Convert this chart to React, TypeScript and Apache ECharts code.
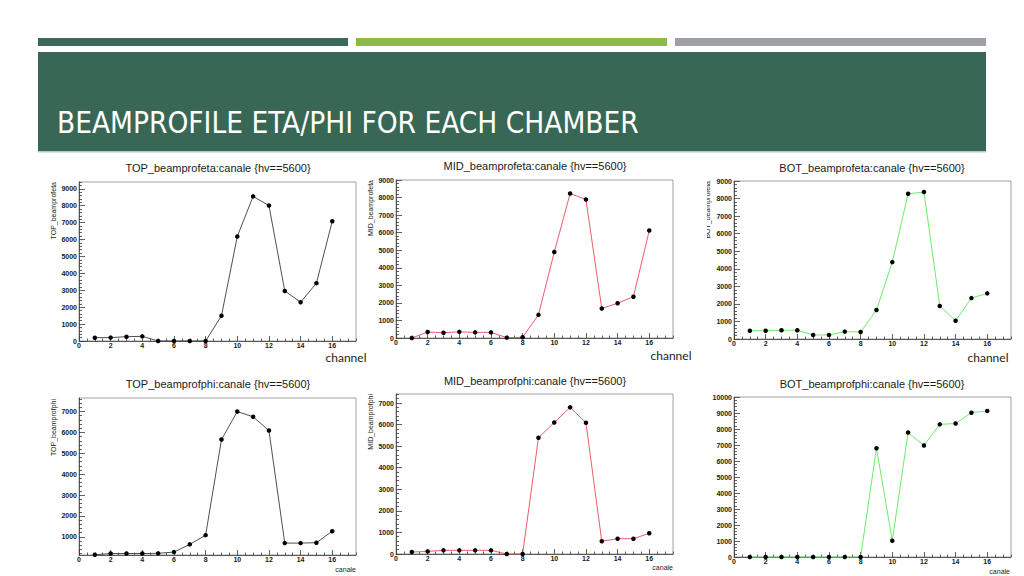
import { useEffect, useRef } from "react";
import * as echarts from "echarts";

// canali 1..16
const CHANNELS = [1, 2, 3, 4, 5, 6, 7, 8, 9, 10, 11, 12, 13, 14, 15, 16];

const TOP_ETA = [196, 200, 255, 275, 0, 0, 0, 0, 1490, 6180, 8550, 8010, 2960, 2290, 3420, 7080];
const MID_ETA = [0, 340, 300, 350, 320, 320, 20, 40, 1320, 4900, 8230, 7890, 1680, 1980, 2350, 6120];
const BOT_ETA = [470, 470, 500, 500, 230, 230, 420, 400, 1650, 4380, 8270, 8370, 1880, 1040, 2330, 2600];
const TOP_PHI = [140, 200, 200, 200, 210, 270, 640, 1080, 5660, 7000, 6750, 6090, 700, 700, 720, 1270];
const MID_PHI = [90, 120, 170, 170, 170, 170, 0, 0, 5390, 6100, 6800, 6090, 590, 710, 710, 960];
const BOT_PHI = [0, 0, 0, 0, 0, 0, 0, 0, 6800, 1020, 7780, 6970, 8290, 8340, 9020, 9130];

// etichette degli assi
const X_LABELS = [0, 2, 4, 6, 8, 10, 12, 14, 16];
const Y_LABELS_ETA = [0, 1000, 2000, 3000, 4000, 5000, 6000, 7000, 8000, 9000];
const Y_LABELS_TOP_PHI = [1000, 2000, 3000, 4000, 5000, 6000, 7000];
const Y_LABELS_MID_PHI = [0, 1000, 2000, 3000, 4000, 5000, 6000, 7000];
const Y_LABELS_BOT_PHI = [0, 1000, 2000, 3000, 4000, 5000, 6000, 7000, 8000, 9000, 10000];

const TEXT = "#1a1a1a";
const FRAME = "#8a8a8a";
const AXIS = "#3a3a3a";
const ROOT_FONT = "'Liberation Sans', Arial, sans-serif";

type Panel = {
  title: string;
  yName: string;
  data: number[];
  yLabels: number[];
  yMin: number;
  yMax: number;
  color: string;
  box: [number, number, number, number]; // left, top, width, height
  titlePos: [number, number];
  yNamePos: [number, number] | null;
};

const PANELS: Panel[] = [
  { title: "TOP_beamprofeta:canale {hv==5600}", yName: "TOP_beamprofeta", data: TOP_ETA, yLabels: Y_LABELS_ETA, yMin: 0, yMax: 9400, color: "#3c3c3c", box: [79, 182, 277, 159], titlePos: [218, 168], yNamePos: [53, 182] },
  { title: "MID_beamprofeta:canale {hv==5600}", yName: "MID_beamprofeta", data: MID_ETA, yLabels: Y_LABELS_ETA, yMin: 0, yMax: 9000, color: "#ec4a55", box: [396, 180, 277, 158], titlePos: [535, 166], yNamePos: [370, 180] },
  { title: "BOT_beamprofeta:canale {hv==5600}", yName: "BOT_beamprofeta", data: BOT_ETA, yLabels: Y_LABELS_ETA, yMin: 0, yMax: 9000, color: "#5ce85c", box: [734, 181, 277, 158], titlePos: [872, 168], yNamePos: [707, 181] },
  { title: "TOP_beamprofphi:canale {hv==5600}", yName: "TOP_beamprofphi", data: TOP_PHI, yLabels: Y_LABELS_TOP_PHI, yMin: 130, yMax: 7650, color: "#3c3c3c", box: [79, 398, 277, 157], titlePos: [218, 384], yNamePos: [53, 399] },
  { title: "MID_beamprofphi:canale {hv==5600}", yName: "MID_beamprofphi", data: MID_PHI, yLabels: Y_LABELS_MID_PHI, yMin: 0, yMax: 7420, color: "#ec4a55", box: [396, 394, 277, 160], titlePos: [535, 381], yNamePos: [370, 394] },
  { title: "BOT_beamprofphi:canale {hv==5600}", yName: "", data: BOT_PHI, yLabels: Y_LABELS_BOT_PHI, yMin: 0, yMax: 10000, color: "#5ce85c", box: [734, 397, 277, 160], titlePos: [872, 384], yNamePos: null },
];

// tacche secondarie (ROOT: 5 suddivisioni su y, 4 su x)
function minorTicks(min: number, max: number, step: number, majors: number[]): number[] {
  const out: number[] = [];
  const start = Math.ceil(min / step) * step;
  for (let v = start; v <= max + 1e-9; v += step) {
    const r = Math.round(v * 100) / 100;
    if (!majors.includes(r)) out.push(r);
  }
  return out;
}

export default function App() {
  const elRef = useRef<HTMLDivElement>(null);

  useEffect(() => {
    const el = elRef.current;
    if (!el) return;
    const chart = echarts.init(el, null, { renderer: "svg" });

    const grid: any[] = [];
    const xAxis: any[] = [];
    const yAxis: any[] = [];
    const series: any[] = [];
    const graphic: any[] = [
      // intestazione della slide
      { type: "rect", shape: { x: 38, y: 38, width: 310, height: 8 }, style: { fill: "#3b6a5b" } },
      { type: "rect", shape: { x: 356, y: 38, width: 311, height: 8 }, style: { fill: "#8cb948" } },
      { type: "rect", shape: { x: 675, y: 38, width: 311, height: 8 }, style: { fill: "#9da1a5" } },
      { type: "rect", shape: { x: 38, y: 52, width: 948, height: 100 }, style: { fill: "#386756" } },
      { type: "rect", shape: { x: 38, y: 151, width: 948, height: 1.5 }, style: { fill: "#b7cbc2" } },
      {
        type: "text",
        x: 57,
        y: 123,
        style: {
          text: "BEAMPROFILE ETA/PHI FOR EACH CHAMBER",
          fill: "#ffffff",
          fontSize: 29.5,
          fontFamily: "'Liberation Sans Narrow', 'DejaVu Sans Condensed', Roboto, sans-serif",
          verticalAlign: "middle",
        },
      },
    ];

    const xMin = 0;
    const xMax = 17.5;
    const xMinor = minorTicks(xMin, xMax, 0.5, X_LABELS);
    const labelStyle = {
      fontSize: 7,
      color: TEXT,
      fontFamily: ROOT_FONT,
      fontWeight: "bold" as const,
      formatter: (v: number) => String(v),
    };

    PANELS.forEach((p, i) => {
      const [left, top, width, height] = p.box;
      grid.push({ left, top, width, height, show: true, borderColor: FRAME, borderWidth: 0.8 });

      xAxis.push(
        {
          type: "value",
          gridIndex: i,
          position: "bottom",
          min: xMin,
          max: xMax,
          axisLine: { show: true, lineStyle: { color: AXIS, width: 0.8 } },
          axisTick: { show: true, inside: true, length: 5, customValues: X_LABELS, lineStyle: { color: AXIS, width: 0.8 } },
          axisLabel: { ...labelStyle, margin: 1, customValues: X_LABELS },
          splitLine: { show: false },
        },
        {
          type: "value",
          gridIndex: i,
          position: "bottom",
          min: xMin,
          max: xMax,
          axisLine: { show: false },
          axisTick: { show: true, inside: true, length: 2.5, customValues: xMinor, lineStyle: { color: AXIS, width: 0.8 } },
          axisLabel: { show: false },
          splitLine: { show: false },
        },
      );

      yAxis.push(
        {
          type: "value",
          gridIndex: i,
          position: "left",
          min: p.yMin,
          max: p.yMax,
          axisLine: { show: true, lineStyle: { color: AXIS, width: 0.8 } },
          axisTick: { show: true, inside: true, length: 6, customValues: p.yLabels, lineStyle: { color: AXIS, width: 0.8 } },
          axisLabel: { ...labelStyle, margin: 2, customValues: p.yLabels },
          splitLine: { show: false },
        },
        {
          type: "value",
          gridIndex: i,
          position: "left",
          min: p.yMin,
          max: p.yMax,
          axisLine: { show: false },
          axisTick: { show: true, inside: true, length: 3, customValues: minorTicks(p.yMin, p.yMax, 200, p.yLabels), lineStyle: { color: AXIS, width: 0.8 } },
          axisLabel: { show: false },
          splitLine: { show: false },
        },
      );

      series.push({
        type: "line",
        xAxisIndex: 2 * i,
        yAxisIndex: 2 * i,
        data: CHANNELS.map((c, k) => [c, p.data[k]]),
        symbol: "circle",
        symbolSize: 4.5,
        showSymbol: true,
        clip: false,
        itemStyle: { color: "#000000" },
        lineStyle: { color: p.color, width: 0.9 },
      });

      graphic.push({
        type: "text",
        x: p.titlePos[0],
        y: p.titlePos[1],
        style: { text: p.title, fill: TEXT, fontSize: 11, fontFamily: ROOT_FONT, align: "center", verticalAlign: "middle" },
      });

      if (p.yNamePos) {
        graphic.push({
          type: "text",
          x: p.yNamePos[0],
          y: p.yNamePos[1],
          rotation: Math.PI / 2,
          style: { text: p.yName, fill: TEXT, fontSize: 7, fontFamily: ROOT_FONT, align: "right", verticalAlign: "middle" },
        });
      }
    });

    // il titolo asse y del pannello BOT eta e' tagliato dal bordo dell'immagine
    graphic.push({ type: "rect", z: 100, shape: { x: 696, y: 176, width: 11, height: 62 }, style: { fill: "#ffffff" } });

    // etichette "channel" della slide e titoli asse x "canale"
    const channelPos: [number, number][] = [[346, 357], [671, 355], [988, 357]];
    channelPos.forEach(([x, y]) =>
      graphic.push({ type: "text", x, y, style: { text: "channel", fill: "#222", fontSize: 12, fontFamily: "Lato, 'Open Sans', sans-serif", align: "center", verticalAlign: "middle" } }),
    );
    const canalePos: [number, number][] = [[356, 569], [673, 567], [1010, 571]];
    canalePos.forEach(([x, y]) =>
      graphic.push({ type: "text", x, y, style: { text: "canale", fill: TEXT, fontSize: 7, fontFamily: ROOT_FONT, align: "right", verticalAlign: "middle" } }),
    );

    chart.setOption({
      animation: false,
      backgroundColor: "#ffffff",
      grid,
      xAxis,
      yAxis,
      series,
      graphic,
    });

    return () => chart.dispose();
  }, []);

  return <div ref={elRef} style={{ position: "absolute", left: 0, top: 0, width: 1024, height: 576 }} />;
}
